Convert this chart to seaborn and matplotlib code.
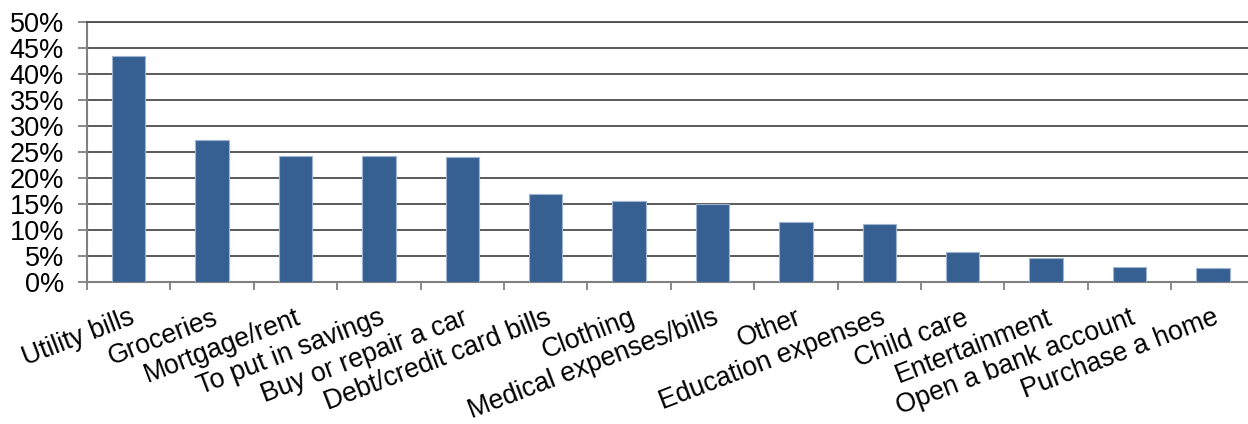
import matplotlib
matplotlib.use("Agg")
import matplotlib.pyplot as plt
import seaborn as sns
import numpy as np

# Share of respondents naming each use of their money (percent)
categories = [
    "Utility bills", "Groceries", "Mortgage/rent", "To put in savings",
    "Buy or repair a car", "Debt/credit card bills", "Clothing",
    "Medical expenses/bills", "Other", "Education expenses", "Child care",
    "Entertainment", "Open a bank account", "Purchase a home",
]
shares = [43.5, 27.4, 24.3, 24.2, 24.0, 17.0, 15.6, 15.0, 11.6, 11.2, 5.8, 4.6, 2.8, 2.6]
y_ticks = [0, 5, 10, 15, 20, 25, 30, 35, 40, 45, 50]
y_tick_labels = [f"{t}%" for t in y_ticks]

sns.set_theme(style="white")
plt.rcParams["font.family"] = ["Liberation Sans", "DejaVu Sans"]

W, H, DPI = 1248, 424, 100
fig = plt.figure(figsize=(W / DPI, H / DPI), dpi=DPI)
left, right, top, bottom = 87, 1254.6, 22, 282
ax = fig.add_axes([left / W, 1 - bottom / H, (right - left) / W, (bottom - top) / H])

sns.barplot(x=categories, y=shares, color="#376092", width=0.4,
            edgecolor="#9db5d2", linewidth=0.8, saturation=1, ax=ax, zorder=3)

ax.set_xlim(-0.5, len(categories) - 0.5)
ax.set_ylim(0, 50)
ax.set_yticks(y_ticks)
ax.set_yticklabels(y_tick_labels, fontsize=19.5, color="black")
ax.yaxis.grid(True, color="#4d4d4d", linewidth=1.3, zorder=0)
ax.set_axisbelow(True)

# category labels at centers, tick marks at category boundaries
ax.set_xticks(np.arange(len(categories)))
ax.set_xticklabels(categories, fontsize=19.2, rotation=21, ha="right",
                   va="top", rotation_mode="anchor", color="black")
ax.set_xticks(np.arange(len(categories) + 1) - 0.5, minor=True)
ax.tick_params(axis="x", which="major", length=0, pad=16.5)
ax.tick_params(axis="x", which="minor", length=6, width=1.3, color="#808080",
               direction="out", bottom=True)
ax.tick_params(axis="y", which="major", length=6.5, width=1.3, color="#808080",
               direction="out", left=True, pad=10)
ax.set_xlabel("")
ax.set_ylabel("")

for side in ("left", "bottom"):
    ax.spines[side].set_color("#808080")
    ax.spines[side].set_linewidth(1.5)
ax.spines["right"].set_visible(False)
ax.spines["top"].set_color("#4d4d4d")
ax.spines["top"].set_linewidth(1.3)

fig.savefig("out.png", dpi=DPI)
